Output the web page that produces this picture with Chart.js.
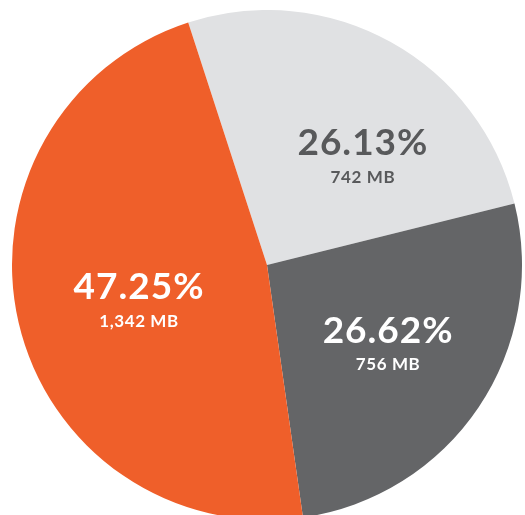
<!DOCTYPE html>
<html>
<head>
<meta charset="utf-8">
<script src="https://cdn.jsdelivr.net/npm/chart.js@4.4.0/dist/chart.umd.min.js"></script>
<style>
  html, body { margin: 0; padding: 0; background: #fff; overflow: hidden; }
  body { width: 525px; height: 515px; position: relative; }
  #wrap { position: absolute; left: 12px; top: 10px; width: 510px; height: 510px; }
</style>
</head>
<body>
<div id="wrap"><canvas id="pie"></canvas></div>
<script>
const labels = ['Free', 'Used', 'Other'];
const sizesMB = [742, 756, 1342];
const colors = ['#e0e1e3', '#646567', '#ef5f2a'];
const textColors = ['#58595b', '#ffffff', '#ffffff'];

const total = sizesMB.reduce((a, b) => a + b, 0);

// nudges so labels sit where the original has them
const angleNudge = [0.217, -0.015, -0.043];
const radiusFrac = [0.568, 0.567, 0.521];

const sliceLabels = {
    id: 'sliceLabels',
    afterDatasetsDraw(chart) {
        const ctx = chart.ctx;
        const meta = chart.getDatasetMeta(0);
        meta.data.forEach((arc, i) => {
            const mid = (arc.startAngle + arc.endAngle) / 2 + angleNudge[i];
            const r = arc.outerRadius * radiusFrac[i];
            const x = arc.x + Math.cos(mid) * r;
            const y = arc.y + Math.sin(mid) * r;
            const pct = (sizesMB[i] / total * 100).toFixed(2) + '%';
            const mb = sizesMB[i].toLocaleString('en-US') + ' MB';
            ctx.save();
            ctx.fillStyle = textColors[i];
            ctx.textAlign = 'center';
            ctx.textBaseline = 'middle';
            ctx.letterSpacing = '1px';
            ctx.font = 'bold 37px Lato, "DejaVu Sans", sans-serif';
            ctx.fillText(pct, x, y - 13);
            ctx.letterSpacing = '0.6px';
            ctx.font = 'bold 17px Lato, "DejaVu Sans", sans-serif';
            ctx.fillText(mb, x, y + 21);
            ctx.restore();
        });
    }
};

new Chart(document.getElementById('pie'), {
    type: 'pie',
    data: {
        labels: labels,
        datasets: [{ data: sizesMB, backgroundColor: colors, borderWidth: 0 }]
    },
    options: {
        responsive: true,
        maintainAspectRatio: false,
        rotation: -18,
        animation: false,
        layout: { padding: 0 },
        plugins: { legend: { display: false }, tooltip: { enabled: false } }
    },
    plugins: [sliceLabels]
});
</script>
</body>
</html>
